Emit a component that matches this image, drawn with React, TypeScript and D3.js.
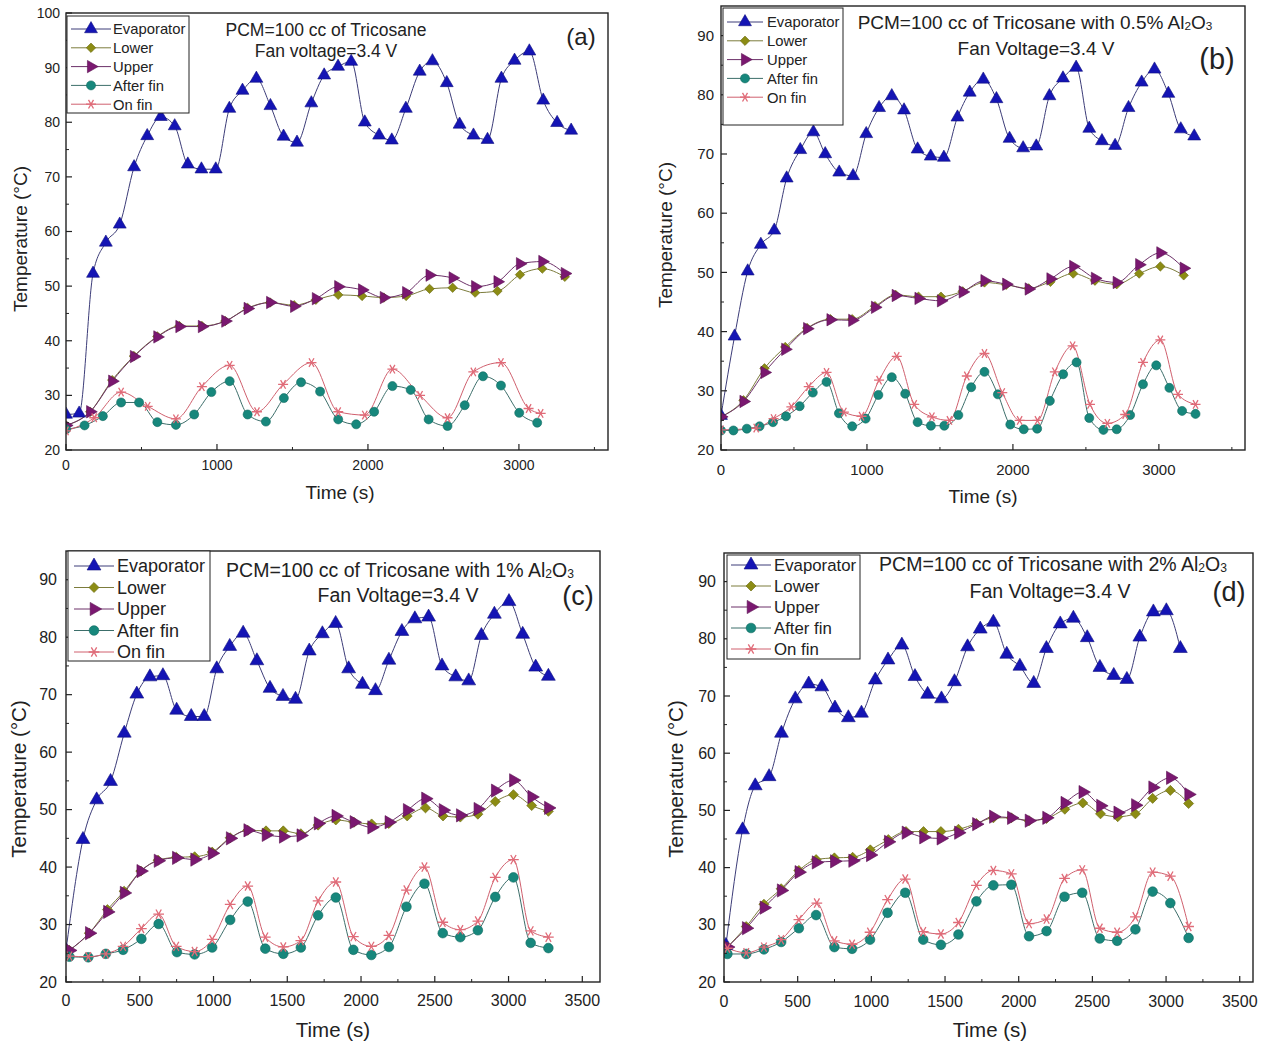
import React from 'react';
import * as d3 from 'd3';

type Pt = [number, number];

// series order: Evaporator, Lower, Upper, After fin, On fin
const seriesNames = ['Evaporator', 'Lower', 'Upper', 'After fin', 'On fin'];

// ---- panel (a): Tricosane ----
const evapA: Pt[] = [[0,26.5],[87,26.7],[179,52.3],[264,58],[356,61.3],[451,71.8],[538,77.5],[628,81],[720,79.3],[807,72.3],[897,71.4],[992,71.4],[1082,82.5],[1169,85.8],[1261,88],[1354,83],[1441,77.4],[1530,76.3],[1625,83.5],[1710,88.6],[1802,90.2],[1889,91.1],[1979,80],[2074,77.6],[2158,76.7],[2251,82.5],[2343,89.3],[2427,91.2],[2522,87.2],[2607,79.6],[2699,77.6],[2792,76.8],[2884,88],[2971,91.3],[3069,93],[3161,84],[3253,79.9],[3346,78.5]];
const lowerA: Pt[] = [[0,24.5],[160,27.0],[306,32.8],[450,37.2],[605,40.8],[751,42.7],[900,42.7],[1055,43.6],[1203,46.0],[1352,47.0],[1511,46.5],[1655,47.5],[1803,48.4],[1961,48.2],[2105,47.9],[2253,48.2],[2408,49.5],[2561,49.7],[2710,48.8],[2858,49.1],[3007,52.1],[3155,53.2],[3304,51.7]];
const upperA: Pt[] = [[0,24.5],[160,27.0],[306,32.6],[450,37.1],[605,40.7],[751,42.6],[900,42.6],[1055,43.6],[1203,45.9],[1352,47.0],[1511,46.3],[1655,47.7],[1803,49.9],[1961,49.3],[2105,47.9],[2253,48.8],[2408,52.0],[2561,51.5],[2710,49.9],[2858,50.8],[3007,54.1],[3155,54.5],[3304,52.3]];
const afterA: Pt[] = [[0,23.8],[123,24.5],[244,26.2],[365,28.7],[484,28.7],[605,25.1],[728,24.6],[849,26.5],[963,30.6],[1084,32.6],[1203,26.5],[1324,25.2],[1443,29.5],[1557,32.4],[1683,30.7],[1803,25.6],[1922,24.7],[2041,27.0],[2162,31.7],[2283,31.0],[2402,25.6],[2527,24.4],[2641,28.2],[2762,33.5],[2881,31.8],[3002,26.8],[3121,25.0]];
const onA: Pt[] = [[0,23.5],[187,25.9],[365,30.6],[541,28.0],[728,25.7],[900,31.6],[1084,35.5],[1265,27.0],[1438,32.0],[1626,36.0],[1803,27.0],[1979,26.4],[2162,34.8],[2345,30.0],[2527,25.9],[2698,34.3],[2881,36.0],[3064,27.6],[3144,26.7]];

// ---- panel (b): 0.5% Al2O3 ----
const evapB: Pt[] = [[0,25.8],[93,39.2],[183,50.2],[273,54.7],[365,57.1],[450,65.9],[543,70.7],[633,73.7],[714,70.0],[810,66.9],[905,66.3],[995,73.4],[1083,77.8],[1170,79.8],[1254,77.4],[1347,70.8],[1437,69.6],[1527,69.4],[1620,76.2],[1704,80.4],[1797,82.6],[1887,79.3],[1977,72.6],[2070,71.0],[2160,71.3],[2250,79.8],[2343,82.8],[2433,84.6],[2523,74.3],[2610,72.2],[2700,71.4],[2792,77.8],[2882,82.1],[2970,84.3],[3065,80.2],[3150,74.2],[3242,73.0]];
const lowerB: Pt[] = [[0,25.6],[154,28.4],[298,33.8],[440,37.4],[590,40.6],[750,42.1],[899,42.1],[1055,44.3],[1197,46.2],[1353,45.9],[1507,45.9],[1656,46.8],[1805,48.3],[1954,47.9],[2108,47.3],[2257,48.4],[2413,49.8],[2562,48.6],[2711,48.0],[2865,49.8],[3010,51.0],[3170,49.5]];
const upperB: Pt[] = [[0,25.6],[154,28.2],[298,33.1],[440,37.0],[590,40.5],[750,42.0],[899,41.9],[1055,44.1],[1197,46.1],[1353,45.6],[1507,45.2],[1656,46.7],[1805,48.6],[1954,48.0],[2108,47.2],[2257,48.9],[2413,51.0],[2562,49.0],[2711,48.3],[2865,51.3],[3010,53.3],[3170,50.7]];
const afterB: Pt[] = [[0,23.3],[85,23.3],[177,23.6],[264,24.0],[356,24.7],[445,25.7],[539,27.4],[629,29.7],[723,31.5],[808,26.2],[899,24.0],[991,25.3],[1078,29.3],[1170,32.3],[1262,29.5],[1347,24.7],[1438,24.1],[1530,24.1],[1626,25.9],[1714,30.6],[1805,33.2],[1897,29.4],[1982,24.3],[2074,23.5],[2166,23.6],[2253,28.3],[2344,32.8],[2436,34.8],[2523,25.4],[2620,23.4],[2711,23.5],[2803,25.9],[2891,31.1],[2982,34.3],[3072,30.5],[3159,26.6],[3251,26.1]];
const onB: Pt[] = [[0,23.4],[241,23.7],[360,25.3],[482,27.3],[601,30.7],[723,33.1],[842,26.4],[963,25.7],[1083,31.8],[1204,35.8],[1324,27.7],[1445,25.6],[1565,25.0],[1684,32.5],[1805,36.3],[1927,29.7],[2046,25.0],[2168,25.0],[2287,33.2],[2409,37.6],[2528,27.7],[2647,24.5],[2769,26.0],[2891,34.8],[3010,38.6],[3131,29.4],[3251,27.7]];

// ---- panel (c): 1% Al2O3 ----
const evapC: Pt[] = [[0,25.5],[115,44.8],[208,51.7],[302,54.9],[395,63.3],[480,70.1],[569,73.1],[657,73.3],[750,67.3],[849,66.2],[937,66.2],[1022,74.5],[1110,78.4],[1201,80.7],[1294,75.9],[1383,71.1],[1471,69.7],[1556,69.2],[1649,77.6],[1738,80.6],[1828,82.4],[1916,74.5],[2010,71.8],[2098,70.7],[2189,76.0],[2277,81.0],[2365,83.2],[2458,83.5],[2549,75.0],[2642,73.1],[2730,72.4],[2816,80.3],[2904,84.0],[3003,86.2],[3096,80.5],[3184,74.8],[3270,73.2]];
const lowerC: Pt[] = [[23,25.5],[158,28.5],[281,32.6],[394,35.8],[507,39.3],[624,41.2],[748,41.7],[872,41.8],[991,42.6],[1113,45.1],[1232,46.4],[1356,46.3],[1473,46.3],[1592,45.8],[1709,47.3],[1829,48.2],[1952,47.8],[2072,47.5],[2189,47.6],[2313,48.9],[2437,50.3],[2556,48.9],[2673,48.7],[2792,49.2],[2910,51.4],[3033,52.6],[3157,50.7],[3270,49.7]];
const upperC: Pt[] = [[23,25.5],[158,28.5],[281,32.2],[394,35.5],[507,39.3],[624,41.1],[748,41.6],[872,41.3],[991,42.4],[1113,45.0],[1232,46.4],[1356,45.6],[1473,45.3],[1592,45.5],[1709,47.6],[1829,48.9],[1952,47.8],[2072,46.9],[2189,47.8],[2313,49.9],[2437,51.9],[2556,49.9],[2673,49.0],[2792,50.1],[2910,53.3],[3033,55.1],[3157,52.2],[3270,50.3]];
const afterC: Pt[] = [[23,24.4],[151,24.3],[270,24.9],[387,25.6],[511,27.5],[628,30.1],[752,25.2],[872,24.8],[991,26.0],[1113,30.8],[1232,34.0],[1351,25.8],[1473,24.9],[1592,26.0],[1709,31.6],[1829,34.7],[1948,25.6],[2070,24.7],[2189,26.1],[2308,33.1],[2430,37.1],[2554,28.5],[2673,27.8],[2792,29.0],[2910,34.8],[3033,38.2],[3150,26.8],[3270,25.9]];
const onC: Pt[] = [[23,24.5],[151,24.4],[270,24.9],[387,26.2],[511,29.3],[628,31.8],[747,26.2],[872,25.3],[991,27.4],[1113,33.5],[1232,36.7],[1351,27.8],[1473,26.1],[1592,27.2],[1709,34.1],[1829,37.4],[1948,27.9],[2070,26.2],[2189,28.1],[2308,36.0],[2430,40.0],[2554,30.4],[2673,29.1],[2792,30.6],[2910,38.2],[3033,41.3],[3150,28.9],[3270,27.8]];

// ---- panel (d): 2% Al2O3 ----
const evapD: Pt[] = [[13,26.4],[126,46.6],[212,54.3],[306,55.9],[390,63.5],[484,69.5],[575,72.1],[664,71.6],[753,67.9],[844,66.2],[933,67.0],[1027,72.8],[1113,76.3],[1207,78.9],[1296,73.4],[1382,70.3],[1476,69.5],[1564,72.5],[1653,78.6],[1739,81.7],[1828,82.9],[1919,77.3],[2008,75.2],[2102,72.2],[2188,78.3],[2282,82.6],[2371,83.6],[2465,80.2],[2551,75.0],[2645,73.6],[2734,72.9],[2822,80.3],[2914,84.7],[3002,84.9],[3097,78.3]];
const lowerD: Pt[] = [[23,26.1],[151,29.7],[271,33.6],[388,36.3],[508,39.5],[625,41.4],[749,41.7],[873,41.8],[993,43.1],[1115,44.9],[1235,46.3],[1354,46.3],[1472,46.3],[1591,46.7],[1713,47.7],[1828,48.7],[1950,48.7],[2070,48.2],[2189,48.6],[2313,50.2],[2435,51.3],[2555,49.4],[2672,48.9],[2792,49.4],[2909,52.1],[3029,53.5],[3153,51.2]];
const upperD: Pt[] = [[23,26.1],[151,29.4],[271,33.0],[388,36.0],[508,39.2],[625,40.9],[749,41.1],[873,41.2],[993,42.2],[1115,44.5],[1235,46.1],[1354,45.3],[1472,45.1],[1591,46.1],[1713,47.6],[1828,48.9],[1950,48.7],[2070,48.2],[2189,48.7],[2313,51.3],[2435,53.2],[2555,50.8],[2672,49.6],[2792,50.9],[2909,54.0],[3029,55.7],[3153,52.8]];
const afterD: Pt[] = [[23,24.9],[151,24.9],[271,25.7],[388,27.0],[508,29.4],[625,31.7],[749,26.1],[869,25.8],[991,27.4],[1110,32.1],[1230,35.6],[1352,27.4],[1472,26.5],[1591,28.3],[1713,34.1],[1828,36.9],[1950,37.0],[2070,28.0],[2189,28.9],[2311,34.9],[2431,35.6],[2550,27.6],[2668,27.2],[2792,29.2],[2909,35.8],[3029,33.8],[3153,27.7]];
const onD: Pt[] = [[23,25.9],[151,25.1],[271,26.1],[388,27.4],[508,30.9],[630,33.8],[749,27.2],[869,26.6],[991,28.7],[1110,34.4],[1230,38.0],[1352,28.8],[1472,28.4],[1591,30.4],[1713,36.9],[1828,39.5],[1950,38.9],[2070,30.2],[2189,31.0],[2311,38.1],[2431,39.6],[2550,29.4],[2668,28.7],[2792,31.4],[2909,39.2],[3029,38.5],[3153,29.7]];

const xTicks1000 = [0, 1000, 2000, 3000];
const xTicks500 = [0, 500, 1000, 1500, 2000, 2500, 3000, 3500];

const FONT = '"Liberation Sans", Arial, sans-serif';

const markerFill = ['#1414b4', '#8c8c14', '#7a1870', '#17877c', '#e06b78'];
const lineColor = ['#3c3c78', '#7c7c3c', '#6c3068', '#3c6e6a', '#d0606e'];

const asterisk = (d3 as any).symbolAsterisk || d3.symbolCross;

function Marker({ kind, x, y, s }: { kind: number; x: number; y: number; s: number }) {
  const t = `translate(${x},${y})`;
  if (kind === 0) return <path transform={t} d={d3.symbol(d3.symbolTriangle, 72 * s)()!} fill={markerFill[0]} stroke="#101080" strokeWidth={0.6} />;
  if (kind === 1) return <path transform={t + ' rotate(45)'} d={d3.symbol(d3.symbolSquare, 44 * s)()!} fill={markerFill[1]} stroke="#6a6a10" strokeWidth={0.6} />;
  if (kind === 2) return <path transform={t + ' rotate(90)'} d={d3.symbol(d3.symbolTriangle, 66 * s)()!} fill={markerFill[2]} stroke="#5a1050" strokeWidth={0.6} />;
  if (kind === 3) return <path transform={t} d={d3.symbol(d3.symbolCircle, 64 * s)()!} fill={markerFill[3]} stroke="#0f6a60" strokeWidth={0.6} />;
  return <path transform={t + ' rotate(90)'} d={d3.symbol(asterisk, 70 * s)()!} fill="none" stroke={markerFill[4]} strokeWidth={1.3} />;
}

type PanelCfg = {
  key: string;
  x0: number; x1: number; y0: number; y1: number;
  xMax: number; yMax: number;
  xTicks: number[]; xMinorStep: number;
  yTicks: number[];
  series: Pt[][];
  title1: string; sub: boolean; title2: string;
  tx: number; t1y: number; t2x: number; t2y: number; tSize: number;
  tagX: number; tagY: number; tagSize: number;
  leg: { x: number; y: number; w: number; h: number; row0: number; dy: number; lx0: number; lx1: number; tx: number; fs: number };
  fs: number; yLabGap: number; labFs: number; ylabX: number; ylabY: number; xlabX: number; xlabY: number; xtickY: number;
  ms: number;
};

const panels: PanelCfg[] = [
  {
    key: 'a', x0: 66, x1: 608, y0: 13, y1: 450, xMax: 3590, yMax: 100,
    xTicks: xTicks1000, xMinorStep: 500, yTicks: [20, 30, 40, 50, 60, 70, 80, 90, 100],
    series: [evapA, lowerA, upperA, afterA, onA],
    title1: 'PCM=100 cc of Tricosane', sub: false, title2: 'Fan voltage=3.4 V',
    tx: 326, t1y: 36, t2x: 326, t2y: 57, tSize: 17.5,
    tagX: 581, tagY: 45, tagSize: 24,
    leg: { x: 67, y: 16, w: 122, h: 97, row0: 29, dy: 18.8, lx0: 71, lx1: 111, tx: 113, fs: 14.8 },
    fs: 14, yLabGap: 6, labFs: 19, ylabX: 27, ylabY: 239, xlabX: 340, xlabY: 499, xtickY: 470, ms: 1,
  },
  {
    key: 'b', x0: 721, x1: 1245, y0: 6, y1: 450, xMax: 3590, yMax: 95,
    xTicks: xTicks1000, xMinorStep: 500, yTicks: [20, 30, 40, 50, 60, 70, 80, 90],
    series: [evapB, lowerB, upperB, afterB, onB],
    title1: 'PCM=100 cc of Tricosane with 0.5% Al', sub: true, title2: 'Fan Voltage=3.4 V',
    tx: 1035, t1y: 29, t2x: 1036, t2y: 55, tSize: 19,
    tagX: 1217, tagY: 69, tagSize: 29,
    leg: { x: 723, y: 8, w: 120, h: 117, row0: 22, dy: 18.8, lx0: 727, lx1: 763, tx: 767, fs: 14.8 },
    fs: 15, yLabGap: 7, labFs: 19, ylabX: 672, ylabY: 235, xlabX: 983, xlabY: 503, xtickY: 475, ms: 1,
  },
  {
    key: 'c', x0: 66, x1: 600, y0: 551, y1: 982, xMax: 3620, yMax: 95,
    xTicks: xTicks500, xMinorStep: 250, yTicks: [20, 30, 40, 50, 60, 70, 80, 90],
    series: [evapC, lowerC, upperC, afterC, onC],
    title1: 'PCM=100 cc of Tricosane with 1% Al', sub: true, title2: 'Fan Voltage=3.4 V',
    tx: 400, t1y: 577, t2x: 398, t2y: 602, tSize: 19.5,
    tagX: 578, tagY: 605, tagSize: 27,
    leg: { x: 68, y: 551, w: 142, h: 110, row0: 566, dy: 21.5, lx0: 74, lx1: 114, tx: 117, fs: 18 },
    fs: 16, yLabGap: 9, labFs: 20.5, ylabX: 26, ylabY: 779, xlabX: 333, xlabY: 1037, xtickY: 1006, ms: 1.15,
  },
  {
    key: 'd', x0: 724, x1: 1253, y0: 553, y1: 982, xMax: 3590, yMax: 95,
    xTicks: xTicks500, xMinorStep: 250, yTicks: [20, 30, 40, 50, 60, 70, 80, 90],
    series: [evapD, lowerD, upperD, afterD, onD],
    title1: 'PCM=100 cc of Tricosane with 2% Al', sub: true, title2: 'Fan Voltage=3.4 V',
    tx: 1053, t1y: 571, t2x: 1050, t2y: 598, tSize: 19.5,
    tagX: 1229, tagY: 601, tagSize: 27,
    leg: { x: 727, y: 555, w: 133, h: 104, row0: 565, dy: 21, lx0: 731, lx1: 771, tx: 774, fs: 16.8 },
    fs: 16, yLabGap: 8, labFs: 20.5, ylabX: 683, ylabY: 779, xlabX: 990, xlabY: 1037, xtickY: 1007, ms: 1.15,
  },
];

function Panel({ p }: { p: PanelCfg }) {
  const x = d3.scaleLinear().domain([0, p.xMax]).range([p.x0, p.x1]);
  const y = d3.scaleLinear().domain([20, p.yMax]).range([p.y1, p.y0]);
  const line = d3.line<Pt>().x(d => x(d[0])).y(d => y(d[1])).curve(d3.curveMonotoneX);
  const xMinor = d3.range(p.xMinorStep, p.xMax, p.xMinorStep * 2);
  const yMinor = d3.range(25, p.yMax, 10);
  const clipId = 'clip-' + p.key;
  const L = p.leg;
  const subFs = p.tSize * 0.62;
  return (
    <g fontFamily={FONT}>
      <defs>
        <clipPath id={clipId}><rect x={p.x0} y={p.y0} width={p.x1 - p.x0} height={p.y1 - p.y0} /></clipPath>
      </defs>
      <g clipPath={`url(#${clipId})`}>
        {p.series.map((s, i) => (
          <path key={'l' + i} d={line(s)!} fill="none" stroke={lineColor[i]} strokeWidth={1} />
        ))}
        {p.series.map((s, i) => (
          <g key={'m' + i}>
            {s.map((d, j) => <Marker key={j} kind={i} x={x(d[0])} y={y(d[1])} s={p.ms} />)}
          </g>
        ))}
      </g>
      <rect x={p.x0} y={p.y0} width={p.x1 - p.x0} height={p.y1 - p.y0} fill="none" stroke="#222" strokeWidth={1.4} />
      {/* ticks pointing inward */}
      {p.xTicks.map(t => (
        <g key={'xt' + t}>
          <line x1={x(t)} x2={x(t)} y1={p.y1} y2={p.y1 - 6} stroke="#222" strokeWidth={1.2} />
          <text x={x(t)} y={p.xtickY} textAnchor="middle" fontSize={p.fs} fill="#222">{t}</text>
        </g>
      ))}
      {xMinor.map(t => <line key={'xm' + t} x1={x(t)} x2={x(t)} y1={p.y1} y2={p.y1 - 3} stroke="#222" strokeWidth={1} />)}
      {p.yTicks.map(t => (
        <g key={'yt' + t}>
          <line x1={p.x0} x2={p.x0 + 6} y1={y(t)} y2={y(t)} stroke="#222" strokeWidth={1.2} />
          <text x={p.x0 - p.yLabGap} y={y(t) + p.fs * 0.35} textAnchor="end" fontSize={p.fs} fill="#222">{t}</text>
        </g>
      ))}
      {yMinor.map(t => <line key={'ym' + t} x1={p.x0} x2={p.x0 + 3} y1={y(t)} y2={y(t)} stroke="#222" strokeWidth={1} />)}
      <text transform={`translate(${p.ylabX},${p.ylabY}) rotate(-90)`} textAnchor="middle" fontSize={p.labFs} fill="#222">Temperature (°C)</text>
      <text x={p.xlabX} y={p.xlabY} textAnchor="middle" fontSize={p.labFs} fill="#222">Time (s)</text>
      {/* legend */}
      <rect x={L.x} y={L.y} width={L.w} height={L.h} fill="white" stroke="#222" strokeWidth={1} />
      {seriesNames.map((n, i) => {
        const ry = L.row0 + i * L.dy;
        return (
          <g key={n}>
            <line x1={L.lx0} x2={L.lx1} y1={ry} y2={ry} stroke={lineColor[i]} strokeWidth={1} />
            <Marker kind={i} x={(L.lx0 + L.lx1) / 2} y={ry} s={p.ms} />
            <text x={L.tx} y={ry + L.fs * 0.36} fontSize={L.fs} fill="#222">{n}</text>
          </g>
        );
      })}
      {/* annotations */}
      <text x={p.tx} y={p.t1y} textAnchor="middle" fontSize={p.tSize} fill="#222">
        {p.title1}
        {p.sub && <tspan fontSize={subFs} dy={1}>2</tspan>}
        {p.sub && <tspan dy={-1}>O</tspan>}
        {p.sub && <tspan fontSize={subFs} dy={1}>3</tspan>}
      </text>
      <text x={p.t2x} y={p.t2y} textAnchor="middle" fontSize={p.tSize} fill="#222">{p.title2}</text>
      <text x={p.tagX} y={p.tagY} textAnchor="middle" fontSize={p.tagSize} fill="#222">({p.key})</text>
    </g>
  );
}

export default function App() {
  return (
    <svg width={1265} height={1044} style={{ display: 'block', position: 'absolute', left: 0, top: 0, background: 'white' }}>
      <rect width={1265} height={1044} fill="white" />
      {panels.map(p => <Panel key={p.key} p={p} />)}
    </svg>
  );
}
